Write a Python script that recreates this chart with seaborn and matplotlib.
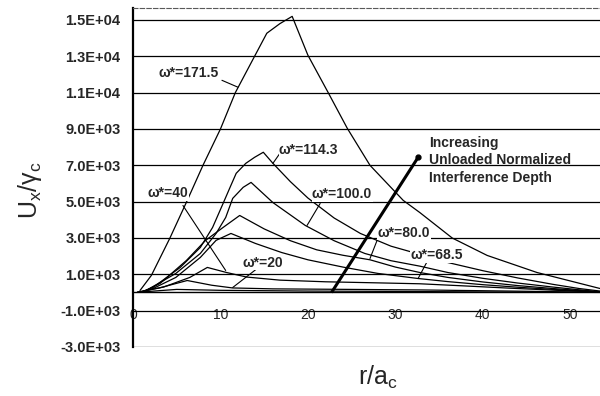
import matplotlib
matplotlib.use('Agg')
import numpy as np
import pandas as pd
import matplotlib.pyplot as plt
import seaborn as sns

# Kurven (r/a_c, U_x/gamma_c)
r_171 = [0.8, 2.1, 4.2, 6.1, 8.0, 10.0, 11.7, 13.9, 15.3, 16.8, 18.2, 20.0, 22.3, 24.5, 27.1, 30.9, 32.8, 36.5, 40.5, 46.2, 53.4]
u_171 = [110, 940, 2975, 4960, 7000, 9000, 11000, 13000, 14270, 14800, 15200, 13060, 11020, 9040, 7000, 5070, 4400, 3000, 2040, 1100, 220]

r_114 = [1.0, 2.3, 5.4, 7.7, 9.1, 10.3, 11.1, 11.8, 12.9, 13.9, 14.9, 16.0, 18.0, 20.0, 23.0, 26.0, 29.5, 32.8, 36.0, 40.0, 44.0, 48.0, 51.0, 53.4]
u_114 = [40, 280, 1380, 2480, 3580, 4900, 5790, 6560, 7110, 7440, 7720, 7110, 6100, 5200, 4100, 3250, 2550, 2100, 1650, 1200, 800, 450, 220, 80]

r_100 = [1.5, 4.9, 7.7, 9.5, 10.6, 11.4, 12.6, 13.5, 16.0, 19.7, 23.0, 26.5, 29.5, 32.8, 36.0, 40.0, 44.0, 48.0, 51.0, 53.4]
u_100 = [110, 1050, 2150, 3250, 4130, 5180, 5790, 6060, 4950, 3690, 2850, 2150, 1750, 1450, 1100, 780, 520, 300, 150, 40]

r_80 = [1.2, 3.1, 6.1, 8.3, 10.3, 12.2, 15.0, 18.0, 21.0, 24.0, 27.1, 30.0, 32.8, 36.0, 40.0, 44.0, 48.0, 51.0, 53.4]
u_80 = [50, 500, 1760, 2870, 3580, 4240, 3500, 2850, 2350, 2050, 1800, 1400, 1100, 830, 580, 380, 220, 110, 30]

r_68 = [1.0, 2.3, 4.9, 7.7, 9.5, 11.2, 14.0, 17.0, 20.0, 24.0, 28.0, 32.6, 36.0, 40.0, 44.0, 48.0, 51.0, 53.4]
u_68 = [30, 220, 830, 1930, 2870, 3250, 2700, 2200, 1800, 1400, 1050, 770, 600, 430, 290, 170, 90, 20]

r_40 = [0.5, 3.5, 6.5, 8.5, 10.7, 13.0, 16.8, 22.0, 27.0, 32.8, 38.0, 43.0, 48.0, 53.4]
u_40 = [20, 300, 830, 1380, 1100, 850, 680, 590, 540, 480, 360, 240, 130, 20]

r_20 = [0.5, 3.0, 6.2, 9.0, 11.4, 16.0, 25.0, 33.0, 43.0, 53.4]
u_20 = [10, 250, 660, 400, 250, 200, 170, 140, 80, 10]

r_10 = [0.5, 3.0, 5.0, 10.0, 20.0, 30.0, 40.0, 53.4]
u_10 = [10, 100, 170, 120, 80, 60, 30, 5]

omega_names = ['171.5', '114.3', '100.0', '80.0', '68.5', '40', '20', '10']
curves_r = [r_171, r_114, r_100, r_80, r_68, r_40, r_20, r_10]
curves_u = [u_171, u_114, u_100, u_80, u_68, u_40, u_20, u_10]

# Beschriftungen: Text, Textposition, Hinweislinie (Start -> Ende)
label_texts = ['ω*=171.5', 'ω*=114.3', 'ω*=100.0', 'ω*=80.0', 'ω*=68.5', 'ω*=40', 'ω*=20']
label_xy = [(2.86, 12070), (16.69, 7820), (20.46, 5400), (28.0, 3300), (31.7, 2040), (1.71, 5450), (12.57, 1650)]
leader_from = [(10.17, 11680), (16.8, 7660), (21.4, 4900), (28.0, 2980), (33.7, 1760), (5.71, 4790), (14.2, 1320)]
leader_to = [(12.0, 11300), (16.0, 7110), (19.9, 3690), (27.1, 1870), (32.6, 770), (10.6, 1210), (11.4, 275)]

arrow_r = [22.7, 32.6]
arrow_u = [0, 7440]

yticks = np.arange(-3000, 15001, 2000)
xticks = [0, 10, 20, 30, 40, 50]

rows = []
for name, rr, uu in zip(omega_names, curves_r, curves_u):
    for a, b in zip(rr, uu):
        rows.append({'omega': name, 'r': a, 'u': b})
df = pd.DataFrame(rows)

sns.set_style('white')
plt.rcParams['font.family'] = ['Liberation Sans', 'DejaVu Sans']
plt.rcParams['mathtext.fontset'] = 'custom'
plt.rcParams['mathtext.rm'] = 'Liberation Sans'

fig = plt.figure(figsize=(6, 3.96), dpi=100)
ax = fig.add_axes([133 / 600, 1 - 347 / 396, 467 / 600, 339 / 396])

sns.lineplot(data=df, x='r', y='u', units='omega', estimator=None, sort=False,
             color='black', lw=0.9, ax=ax, legend=False)

# dicke Linie "Increasing ..."
ax.plot(arrow_r, arrow_u, color='black', lw=2.2, solid_capstyle='butt')
ax.plot(arrow_r[1], arrow_u[1], 'o', color='black', ms=3.5)
ax.text(33.9, 7270, 'Increasing\nUnloaded Normalized\nInterference Depth',
        ha='left', va='center', fontsize=10, fontweight='bold', linespacing=1.3)

for txt, (tx, ty), (x0, y0), (x1, y1) in zip(label_texts, label_xy, leader_from, leader_to):
    ax.plot([x0, x1], [y0, y1], color='black', lw=0.8)
    ax.text(tx, ty, txt, ha='left', va='center', fontsize=10, fontweight='bold',
            bbox=dict(fc='white', ec='none', pad=0.3), zorder=5)

ax.set_xlim(0, 53.4)
ax.set_ylim(-3000, 15660)
ax.set_yticks(yticks, [f'{v:.1E}' for v in yticks], fontweight='bold', fontsize=10.5)
ax.set_xticks(xticks, [str(v) for v in xticks], fontweight='bold', fontsize=10.5)
ax.grid(axis='y', color='black', lw=0.9)
ax.grid(axis='x', visible=False)
ax.set_xlabel('')
ax.set_ylabel('')

ax.spines['left'].set_linewidth(1.6)
ax.spines['left'].set_color('black')
ax.spines['bottom'].set_position(('data', 0))
ax.spines['bottom'].set_linewidth(1.0)
ax.spines['bottom'].set_color('black')
ax.spines['top'].set_linestyle((0, (4, 2)))
ax.spines['top'].set_color('0.35')
ax.spines['right'].set_visible(False)
ax.tick_params(axis='y', direction='out', length=6, width=0.9, pad=3, color='black')
ax.tick_params(axis='x', direction='out', length=4, width=0.9, pad=7, color='black')

fig.text(378 / 600, 1 - 377 / 396, 'r/a$_\\mathrm{c}$', ha='center', va='center', fontsize=18)
fig.text(30 / 600, 1 - 190 / 396, 'U$_\\mathrm{x}$/γ$_\\mathrm{c}$', ha='center', va='center',
         fontsize=18, rotation=90)

fig.savefig('out.png', dpi=100)
